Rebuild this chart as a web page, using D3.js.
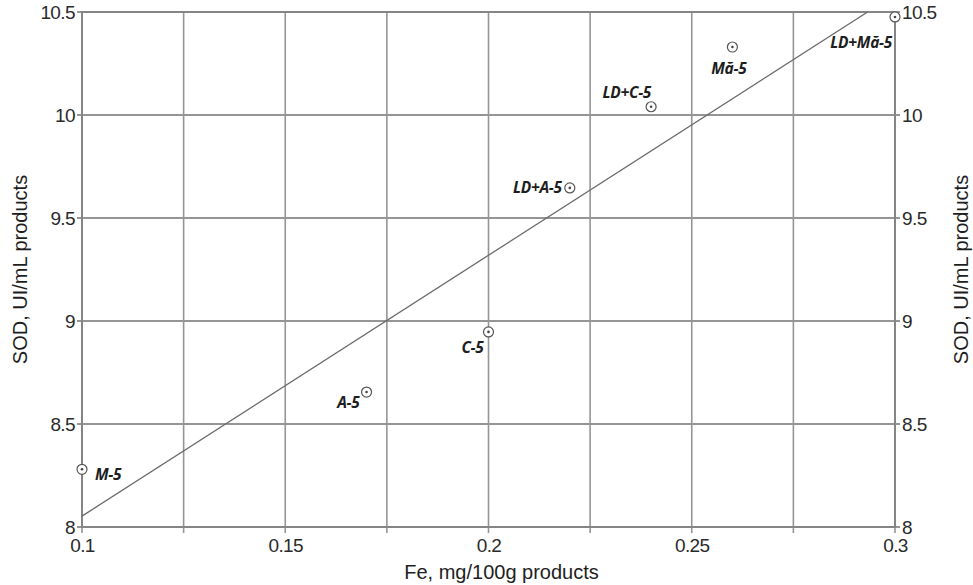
<!DOCTYPE html>
<html><head><meta charset="utf-8">
<script src="https://cdn.jsdelivr.net/npm/d3@7"></script>
<style>body{margin:0;background:#fff}svg{display:block}</style>
</head><body>
<svg id="c" width="973" height="585"></svg>
<script>
const labels = ["M-5","A-5","C-5","LD+A-5","LD+C-5","Mă-5","LD+Mă-5"];
const feValues = [0.1,0.17,0.2,0.22,0.24,0.26,0.3];
const sodValues = [8.28,8.655,8.947,9.646,10.04,10.33,10.476];
const xTicks = [0.1,0.125,0.15,0.175,0.2,0.225,0.25,0.275,0.3];
const xTickLabels = ["0.1","","0.15","","0.2","","0.25","","0.3"];
const yTicks = [8,8.5,9,9.5,10,10.5];
const yTickLabels = ["8","8.5","9","9.5","10","10.5"];
const labelOffsets = [[13,11,"start"],[-7,16,"end"],[-5,21,"end"],[-8,5,"end"],[0,-9,"end"],[14,27,"end"],[-3,31,"end"]];

const svg = d3.select("#c");
const L=82,R=895,T=12,B=527;
const x = d3.scaleLinear().domain([0.1,0.3]).range([L,R]);
const y = d3.scaleLinear().domain([8,10.5]).range([B,T]);

// grid
svg.append("g").selectAll("line").data(xTicks).join("line")
  .attr("x1",d=>x(d)).attr("x2",d=>x(d)).attr("y1",T).attr("y2",B+6)
  .attr("stroke","#959595").attr("stroke-width",1.6);
svg.append("g").selectAll("line").data(yTicks).join("line")
  .attr("x1",L-5).attr("x2",R+5).attr("y1",d=>y(d)).attr("y2",d=>y(d))
  .attr("stroke","#959595").attr("stroke-width",1.8);
// frame
svg.append("rect").attr("x",L).attr("y",T).attr("width",R-L).attr("height",B-T)
  .attr("fill","none").attr("stroke","#858585").attr("stroke-width",2);

const font = "'Liberation Sans', Arial, sans-serif";
// axes labels
const xa = svg.append("g").attr("transform",`translate(0,${B})`)
  .call(d3.axisBottom(x).tickValues(xTicks).tickFormat((d,i)=>xTickLabels[i]).tickSize(0).tickPadding(12));
const yl = svg.append("g").attr("transform",`translate(${L},0)`)
  .call(d3.axisLeft(y).tickValues(yTicks).tickFormat((d,i)=>yTickLabels[i]).tickSize(0).tickPadding(7));
const yr = svg.append("g").attr("transform",`translate(${R},0)`)
  .call(d3.axisRight(y).tickValues(yTicks).tickFormat((d,i)=>yTickLabels[i]).tickSize(0).tickPadding(7));
[xa,yl,yr].forEach(g=>{
  g.select(".domain").remove();
  g.selectAll("text").attr("font-family",font).attr("font-size",19).attr("fill","#2a2a2a").attr("letter-spacing","-0.6px");
});

// regression line (least squares)
const mx=d3.mean(feValues), my=d3.mean(sodValues);
const slope = d3.sum(feValues.map((v,i)=>(v-mx)*(sodValues[i]-my)))/d3.sum(feValues.map(v=>(v-mx)**2));
const icpt = my - slope*mx;
const xEnd = (10.5-icpt)/slope;
svg.append("line").attr("x1",x(0.1)).attr("y1",y(icpt+slope*0.1))
  .attr("x2",x(xEnd)).attr("y2",y(10.5)).attr("stroke","#6a6a6a").attr("stroke-width",1.3);

// points
const pts = svg.append("g").selectAll("g").data(labels).join("g")
  .attr("transform",(d,i)=>`translate(${x(feValues[i])},${y(sodValues[i])})`);
pts.append("circle").attr("r",5).attr("fill","#fff").attr("stroke","#555").attr("stroke-width",1.2);
pts.append("circle").attr("r",1.3).attr("fill","#444");
pts.append("text").text(d=>d)
  .attr("x",(d,i)=>labelOffsets[i][0]).attr("y",(d,i)=>labelOffsets[i][1])
  .attr("text-anchor",(d,i)=>labelOffsets[i][2])
  .attr("font-family","'Open Sans', sans-serif").attr("font-style","italic").attr("font-weight","bold")
  .attr("font-size",15.5).attr("fill","#1e1e1e").attr("letter-spacing","-0.3px");

// titles
svg.append("text").attr("x",(L+R)/2+13).attr("y",579).attr("text-anchor","middle")
  .attr("font-family",font).attr("font-size",20).attr("fill","#1e1e1e").text("Fe, mg/100g products");
svg.append("text").attr("transform",`translate(27,${(T+B)/2}) rotate(-90)`).attr("text-anchor","middle")
  .attr("font-family",font).attr("font-size",20).attr("fill","#1e1e1e").text("SOD, UI/mL products");
svg.append("text").attr("transform",`translate(968,${(T+B)/2}) rotate(-90)`).attr("text-anchor","middle")
  .attr("font-family",font).attr("font-size",20).attr("fill","#1e1e1e").text("SOD, UI/mL products");
</script>
</body></html>
